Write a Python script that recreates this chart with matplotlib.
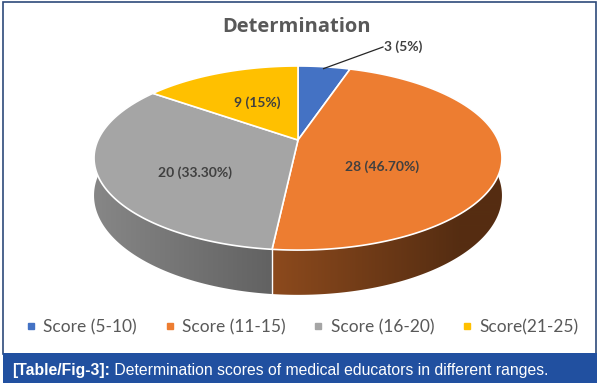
import numpy as np
import matplotlib
matplotlib.use("Agg")
import matplotlib.pyplot as plt
from matplotlib.patches import Polygon, Rectangle
from matplotlib.lines import Line2D
from matplotlib.colors import to_rgb

# data
categories = ["Score (5-10)", "Score (11-15)", "Score (16-20)", "Score(21-25)"]
counts = [3, 28, 20, 9]
percents = ["5%", "46.70%", "33.30%", "15%"]
colors = ["#4472C4", "#ED7D31", "#A5A5A5", "#FFC000"]

W, H = 600, 384
fig = plt.figure(figsize=(6, 3.84), dpi=100)
ax = fig.add_axes([0, 0, 1, 1])
ax.set_xlim(0, W)
ax.set_ylim(H, 0)
ax.axis('off')

# frame + caption bar
ax.add_patch(Rectangle((3, 2), 593, 352, fill=False, ec='#2d4a7a', lw=1.2, zorder=1))
ax.add_patch(Rectangle((3, 353), 594, 30, fc='#2150A0', ec='none', zorder=1))

# pie geometry in pixels, with a little perspective (far side smaller)
cx, cy = 298, 140
a, b, k = 200, 88.5, 0.196
depth = 36


def proj(theta, r=1.0):
    t = np.radians(theta)
    u, v = r * np.sin(t), r * np.cos(t)
    w = 1 + k * v
    return cx + a * u / w, cy - b * v / w, w


total = sum(counts)
bounds = np.concatenate([[0], np.cumsum(counts)]) / total * 360

# side walls: one band per slice, filled with a left-to-right shading
xs = np.arange(80, 520)
u = np.clip((xs - cx) / a, -1, 1)
shade = np.clip(0.56 - 0.25 * u, 0.36, 1)
for i, c in enumerate(colors):
    th = np.linspace(bounds[i], bounds[i + 1], 200)
    top = [proj(t) for t in th]
    band = [(x, y) for x, y, w in top] + [(x, y + depth / w) for x, y, w in top[::-1]]
    poly = Polygon(band, closed=True, fc='none', ec='none')
    ax.add_patch(poly)
    img = np.ones((2, len(xs), 3)) * np.array(to_rgb(c))[None, None, :] * shade[None, :, None]
    im = ax.imshow(np.clip(img, 0, 1), extent=(xs[0], xs[-1] + 1, 320, 40),
                   aspect='auto', interpolation='bilinear', zorder=2)
    im.set_clip_path(poly)
ax.set_xlim(0, W)
ax.set_ylim(H, 0)

# visible slice boundaries on the wall
for t in bounds[1:-1]:
    if np.cos(np.radians(t)) < 0:
        x, y, w = proj(t)
        ax.plot([x, x], [y, y + depth / w], color='white', lw=1, zorder=3)

# top faces
for i, c in enumerate(colors):
    th = np.linspace(bounds[i], bounds[i + 1], 200)
    pts = [(cx, cy)] + [proj(t)[:2] for t in th]
    ax.add_patch(Polygon(pts, closed=True, fc=c, ec='white', lw=1.2, zorder=4,
                         joinstyle='round'))

# data labels
lab_font = dict(family='Lato', weight='bold', color='#404040', fontsize=10, zorder=6)
label_pos = [None, (382, 167), (195, 173), (257, 103)]
for i in range(len(counts)):
    txt = f"{counts[i]} ({percents[i]})"
    if label_pos[i] is None:
        mid = (bounds[i] + bounds[i + 1]) / 2
        x0, y0, _ = proj(mid, 0.97)
        ax.plot([x0, 383], [y0, 47], color='#262626', lw=0.9, zorder=6)
        ax.text(384, 47, txt, ha='left', va='center', **lab_font)
    else:
        ax.text(*label_pos[i], txt, ha='center', va='center', **lab_font)

# title
ax.text(297, 27, "Determination", ha='center', va='center', family='Open Sans',
        weight='bold', fontsize=14.5, color='#595959', zorder=6)

# legend
handles = [Line2D([], [], marker='s', ls='', color=c, markersize=5) for c in colors]
fig.legend(handles, categories, ncol=4, loc='center', bbox_to_anchor=(0.502, 1 - 327 / H),
           frameon=False, prop=dict(family='Lato', size=12.5), labelcolor='#595959',
           handletextpad=0.3, columnspacing=1.5, handlelength=0.8)

# caption
t1 = ax.text(12, 370, "[Table/Fig-3]:", ha='left', va='center', family='Liberation Sans',
             weight='bold', fontsize=11.3, color='white', zorder=6)
ax.annotate(" Determination scores of medical educators in different ranges.",
            xy=(1, 0.5), xycoords=t1, ha='left', va='center', family='Liberation Sans',
            fontsize=11.3, color='white', zorder=6)

fig.savefig("out.png", dpi=100)
